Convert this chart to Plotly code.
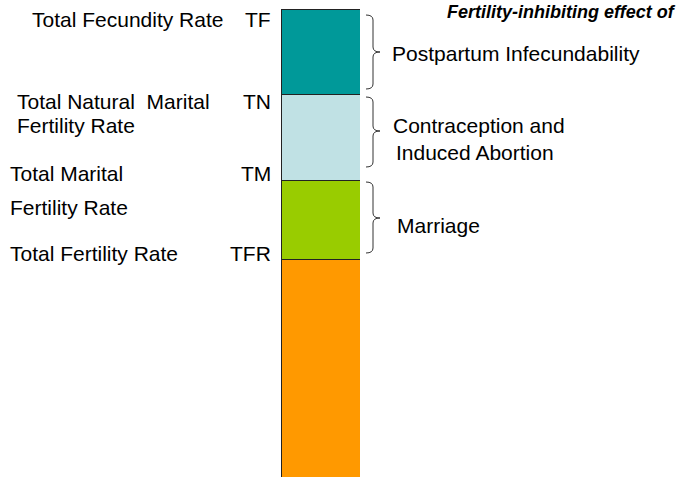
import plotly.graph_objects as go

W, H = 683, 477

# Data (values in fertility units, stacked bottom to top)
segments = ["Total Fertility Rate", "Marriage", "Contraception and Induced Abortion", "Postpartum Infecundability"]
values = [7.1, 2.6, 2.8, 2.8]
colors = ["#FF9900", "#99CC00", "#C0E1E4", "#009999"]

fig = go.Figure()
for name, v, c in zip(segments, values, colors):
    fig.add_trace(go.Bar(x=["bar"], y=[v], name=name, marker=dict(color=c, line=dict(color="#222222", width=1)),
                         hoverinfo="skip", showlegend=False))

total = sum(values)
top_px = 9

def px(x):
    return x / W

def py(y):
    return 1 - y / H

FONT = "Liberation Sans, Arial, sans-serif"
annotations = []

def txt(text, x, y, anchor="left", size=21, bold_italic=False):
    t = f"<b><i>{text}</i></b>" if bold_italic else text
    annotations.append(dict(text=t, x=px(x), y=py(y), xref="paper", yref="paper",
                            xanchor=anchor, yanchor="middle", showarrow=False, borderpad=0,
                            font=dict(family=FONT, size=size, color="#000000")))

# Left labels
txt("Total Fecundity Rate", 31, 19)
txt("TF", 272, 19, anchor="right")
txt("Total Natural&nbsp;&nbsp;Marital", 16, 101)
txt("Fertility Rate", 16, 125)
txt("TN", 272, 101, anchor="right")
txt("Total Marital", 9, 173)
txt("TM", 272, 173, anchor="right")
txt("Fertility Rate", 9, 207)
txt("Total Fertility Rate", 9, 254)
txt("TFR", 272, 254, anchor="right")

# Right labels
txt("Fertility-inhibiting effect of", 677, 12, anchor="right", size=18, bold_italic=True)
txt("Postpartum Infecundability", 391, 53)
txt("Contraception and", 392, 125)
txt("Induced Abortion", 395, 153)
txt("Marriage", 396, 225)

shapes = []

def brace(top, bottom, mid, x0=366, xm=373, xt=380):
    r = 5
    def P(x, y):
        return f"{px(x)},{py(y)}"
    path = (f"M {P(x0, top)} Q {P(xm, top)} {P(xm, top + r)} "
            f"L {P(xm, mid - r)} Q {P(xm, mid)} {P(xt, mid)} "
            f"Q {P(xm, mid)} {P(xm, mid + r)} "
            f"L {P(xm, bottom - r)} Q {P(xm, bottom)} {P(x0, bottom)}")
    shapes.append(dict(type="path", path=path, xref="paper", yref="paper",
                       line=dict(color="#333333", width=1)))

brace(15, 89, 52)
brace(97, 167, 131)
brace(182, 253, 218)

fig.update_layout(
    width=W, height=H,
    margin=dict(l=0, r=0, t=0, b=0),
    paper_bgcolor="white", plot_bgcolor="white",
    barmode="stack", bargap=0,
    xaxis=dict(domain=[281 / W, 360 / W], visible=False, fixedrange=True),
    yaxis=dict(range=[0, total * H / (H - top_px)], visible=False, fixedrange=True),
    annotations=annotations, shapes=shapes,
)

fig.write_html("out.html", config={"displayModeBar": False, "staticPlot": True},
               post_script="document.body.style.margin='0';document.body.style.overflow='hidden';")
